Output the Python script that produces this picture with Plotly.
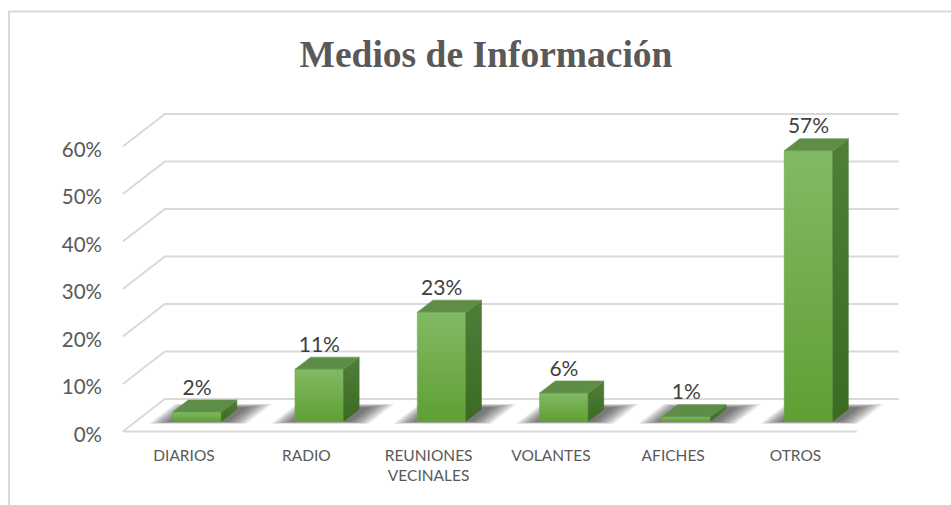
import plotly.graph_objects as go

# Survey results: share of respondents per information channel
categories = ["DIARIOS", "RADIO", "REUNIONES<br>VECINALES", "VOLANTES", "AFICHES", "OTROS"]
shares = [0.02, 0.11, 0.23, 0.06, 0.01, 0.57]
tick_values = [0.0, 0.1, 0.2, 0.3, 0.4, 0.5, 0.6]

W, H = 951, 505

# Pseudo-3D geometry (in axis units): floor depth offsets
DX = 0.3434          # depth shift along x (categories)
DY = 0.0684          # depth shift along y (value)
D0 = 0.31            # depth of the bar front faces
BD = 0.37            # bar depth
BW = 0.397           # bar width

X_RANGE = [-1.5045, -1.5045 + W / 122.3]
Y_RANGE = [-(H - 431.5) / 475.0, 431.5 / 475.0]

GRID = "#d9d9d9"
FRONT_TOP, FRONT_BOT = "#82ba64", "#5f9f33"
TOP_FACE = "#5e8d47"
SIDE_TOP, SIDE_BOT = "#507f3a", "#3b6a22"

fig = go.Figure()

# Back wall, side wall and floor gridlines
gx, gy = [], []
for v in tick_values:
    gx += [-0.5, -0.5 + DX, 5.5 + DX, None]
    gy += [v, v + DY, v + DY, None]
gx += [-0.5, 5.5, None]
gy += [0, 0, None]
fig.add_trace(go.Scatter(x=gx, y=gy, mode="lines", line=dict(color=GRID, width=2),
                         hoverinfo="skip", showlegend=False))


def floor_poly(u0, u1, d0, d1):
    xs = [u0 + d0 * DX, u1 + d0 * DX, u1 + d1 * DX, u0 + d1 * DX, u0 + d0 * DX]
    ys = [d0 * DY, d0 * DY, d1 * DY, d1 * DY, d0 * DY]
    return xs, ys


# Soft shadows on the floor, darkest right around the bar footprint
for i, v in enumerate(shares):
    layers = 10
    for k in range(layers):
        e = (layers - 1 - k) / (layers - 1)
        u0 = i - BW / 2 - 0.02 - 0.15 * e
        u1 = i + BW / 2 + 0.06 + 0.17 * e
        d0 = D0 - 0.01 - 0.06 * e
        d1 = D0 + BD + 0.06 + 0.11 * e
        xs, ys = floor_poly(u0, u1, d0, d1)
        fig.add_trace(go.Scatter(x=xs, y=ys, mode="lines", fill="toself",
                                 fillcolor="rgba(30,30,30,0.085)", line=dict(width=0),
                                 hoverinfo="skip", showlegend=False))

# Bars: front, top and side faces
for i, v in enumerate(shares):
    x0 = i + D0 * DX - BW / 2
    x1 = x0 + BW
    yb = D0 * DY
    yt = yb + v
    bx, by = BD * DX, BD * DY
    fig.add_trace(go.Scatter(
        x=[x0, x1, x1, x0, x0], y=[yb, yb, yt, yt, yb], mode="lines", fill="toself",
        fillgradient=dict(type="vertical", start=yb, stop=yt,
                          colorscale=[[0, FRONT_BOT], [1, FRONT_TOP]]),
        line=dict(width=0.6, color="#6aa845"), hoverinfo="skip", showlegend=False))
    fig.add_trace(go.Scatter(
        x=[x1, x1 + bx, x1 + bx, x1, x1], y=[yb, yb + by, yt + by, yt, yb],
        mode="lines", fill="toself",
        fillgradient=dict(type="vertical", start=yb, stop=yt + by,
                          colorscale=[[0, SIDE_BOT], [1, SIDE_TOP]]),
        line=dict(width=0.6, color="#467530"), hoverinfo="skip", showlegend=False))
    fig.add_trace(go.Scatter(
        x=[x0, x1, x1 + bx, x0 + bx, x0], y=[yt, yt, yt + by, yt + by, yt],
        mode="lines", fill="toself", fillcolor=TOP_FACE,
        line=dict(width=0.6, color="#6a9a52"), hoverinfo="skip", showlegend=False))

# Data labels above each bar
fig.add_trace(go.Scatter(
    x=[i + D0 * DX for i in range(len(shares))],
    y=[D0 * DY + v + BD * DY for v in shares],
    mode="text", text=[f"{round(v * 100)}%" for v in shares],
    textposition="top center", textfont=dict(family="Lato", size=21, color="#404040"),
    cliponaxis=False, hoverinfo="skip", showlegend=False))

fig.update_layout(
    width=W, height=H,
    margin=dict(l=0, r=0, t=0, b=0),
    paper_bgcolor="white", plot_bgcolor="white",
    title=dict(text="<b>Medios de Información</b>", x=486 / W, xanchor="center",
               y=1 - 54 / H, yanchor="middle",
               font=dict(family="Liberation Serif", size=37.5, color="#595959")),
    xaxis=dict(range=X_RANGE, anchor="free", position=(H - 431.5) / H,
               tickvals=list(range(len(categories))), ticktext=categories,
               showgrid=False, zeroline=False, showline=False, ticks="",
               ticklabelstandoff=13,
               tickfont=dict(family="Lato", size=15.5, color="#595959")),
    yaxis=dict(range=Y_RANGE, anchor="free", position=123 / W,
               tickvals=tick_values, tickformat=".0%",
               showgrid=False, zeroline=False, showline=False, ticks="",
               ticklabelstandoff=21, ticklabelshift=3,
               tickfont=dict(family="Lato", size=20.5, color="#595959")),
    shapes=[dict(type="rect", xref="paper", yref="paper",
                 x0=9 / W, x1=1.02, y0=-0.02, y1=1 - 11.5 / H,
                 line=dict(color="#d9d9d9", width=2), layer="below")],
)

fig.write_html("out.html")
